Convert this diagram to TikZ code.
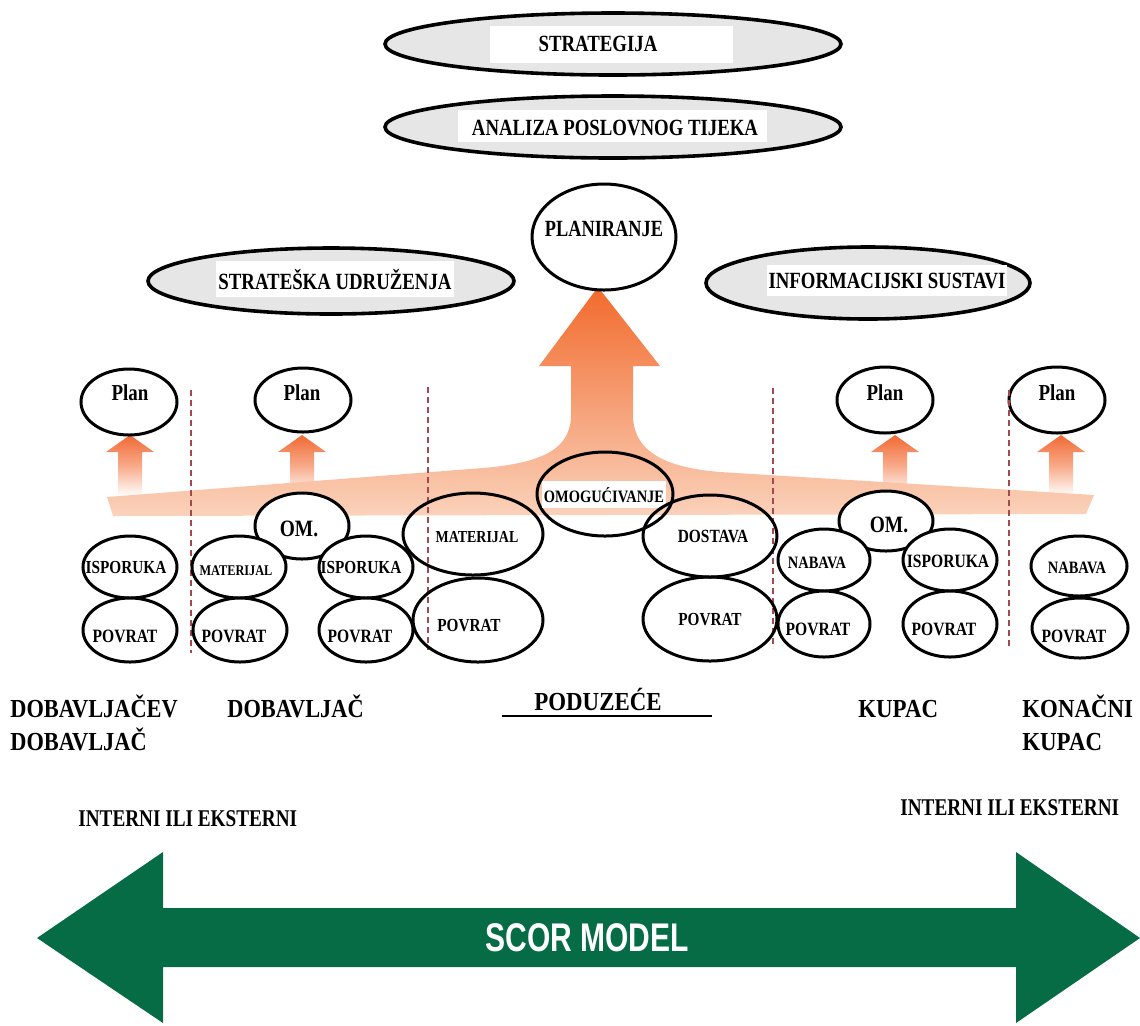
\documentclass[tikz,border=0pt]{standalone}
\usepackage{graphicx}
\usepackage{fontspec}
\setmainfont{Liberation Serif}
\newfontfamily\scorfont{Liberation Sans}
\usetikzlibrary{shapes.geometric}
\newcommand{\cz}[2][0.83]{\scalebox{#1}[1]{#2}}
\newcommand{\fsz}[1]{\fontsize{#1}{#1}\selectfont\bfseries}
\definecolor{ovgray}{HTML}{E6E6E6}
\definecolor{orTop}{HTML}{F26A2C}
\definecolor{orMid}{HTML}{F7A17A}
\definecolor{orBot}{HTML}{FAD2BB}
\definecolor{smTop}{HTML}{F06A35}
\definecolor{smMid}{HTML}{F8A988}
\definecolor{dashred}{HTML}{A4474E}
\definecolor{scorgreen}{HTML}{056C46}
\begin{document}
\begin{tikzpicture}[x=0.5pt,y=-0.5pt,
  ov/.style args={#1/#2}{ellipse, draw=black, line width=1.5pt, inner sep=0pt, minimum width=#1pt, minimum height=#2pt},
  wov/.style args={#1/#2}{ov=#1/#2, fill=white},
  gov/.style args={#1/#2}{ov=#1/#2, fill=ovgray, line width=1.8pt},
  txt/.style={inner sep=0pt, anchor=base, font=\fsz{#1}},
  lbl/.style={inner sep=0pt, anchor=base west, font=\fsz{13}},
  dashline/.style={draw=dashred, line width=0.9pt, dash pattern=on 3pt off 2pt},
  smallarrow/.style={top color=smTop, bottom color=white, middle color=smMid, draw=none}
]
\useasboundingbox (0,0) rectangle (1140,1025);

% ---- top gray ellipses ----
\node[gov=228/31] (strat) at (613,44) {};
\node[fill=white, minimum width=121.5pt, minimum height=18.5pt, inner sep=0pt] (stratbox) at (611,44) {};
\node[txt=11.6] (stratt) at (598,51) {\cz[0.81]{STRATEGIJA}};
\node[gov=228/31] (anal) at (613,127) {};
\node[fill=white, minimum width=154.5pt, minimum height=16pt, inner sep=0pt] (analbox) at (612,126) {};
\node[txt=11.6] (analt) at (615,135) {\cz[0.81]{ANALIZA POSLOVNOG TIJEKA}};

% ---- small arrows ----
\foreach \cx/\nm in {130/a1,302/a2,895/a3,1061/a4}{
  \path[smallarrow] (\cx,435) -- (\cx+24,452) -- (\cx+12,452) -- (\cx+12,496)
     -- (\cx-12,496) -- (\cx-12,452) -- (\cx-24,452) -- cycle;
}

% ---- big arrow with band ----
\path[top color=orTop, middle color=orMid, bottom color=orBot]
  (598,287) -- (660,366) -- (633,366) -- (633,415)
  .. controls (633,455) and (672,468) .. (720,472)
  -- (1094,495) -- (1086,514) -- (113,516) -- (107,497) -- (470,469)
  .. controls (530,465) and (571,455) .. (571,415)
  -- (571,366) -- (539,366) -- cycle;

% ---- planiranje and side ellipses ----
\node[wov=72/53] (plan0) at (604,237) {};
\node[txt=11.6] (plan0t) at (604,236) {\cz[0.79]{PLANIRANJE}};
\node[gov=183/33] (su) at (331,281) {};
\node[txt=11.6, fill=white, inner xsep=1pt, inner ysep=4pt] (sut) at (335,289) {\cz[0.81]{STRATEŠKA UDRUŽENJA}};
\node[gov=162/36] (is) at (868,283) {};
\node[txt=11.6, fill=white, inner xsep=1pt, inner ysep=4pt] (ist) at (887,288) {\cz[0.81]{INFORMACIJSKI SUSTAVI}};

% ---- plan ellipses ----
\node[wov=48/33] (p1) at (129,402) {};
\node[txt=11.4] (p1t) at (130,400) {\cz{Plan}};
\node[wov=48/32] (p2) at (303,400) {};
\node[txt=11.4] (p2t) at (302,400) {\cz{Plan}};
\node[wov=48/33] (p3) at (885,400) {};
\node[txt=11.4] (p3t) at (885,400) {\cz{Plan}};
\node[wov=48/33] (p4) at (1057,400) {};
\node[txt=11.4] (p4t) at (1057,400) {\cz{Plan}};

% ---- dashed separators ----
\coordinate (d1t) at (191,390); \coordinate (d1b) at (191,653);
\coordinate (d2t) at (428,387); \coordinate (d2b) at (428,650);
\coordinate (d3t) at (773,388); \coordinate (d3b) at (773,648);
\coordinate (d4t) at (1009,390); \coordinate (d4b) at (1009,648);
\draw[dashline] (d1t) -- (d1b);
\draw[dashline] (d2t) -- (d2b);
\draw[dashline] (d3t) -- (d3b);
\draw[dashline] (d4t) -- (d4b);

% ---- column 1 ----
\node[wov=47/31] (isp1) at (130,567) {};
\node[txt=9.2] (isp1t) at (126,573) {\cz{ISPORUKA}};
\node[wov=47/32] (pov1) at (130,630) {};
\node[txt=9.4] (pov1t) at (125,642) {\cz{POVRAT}};

% ---- column 2 ----
\node[wov=47/33] (om1) at (302,526) {};
\node[txt=11.7] (om1t) at (299,536) {\cz{OM.}};
\node[wov=47/31] (mat2) at (239,567) {};
\node[txt=7.4] (mat2t) at (236,575) {\cz{MATERIJAL}};
\node[wov=47/32] (pov2) at (240,630) {};
\node[txt=9.4] (pov2t) at (234,642) {\cz{POVRAT}};
\node[wov=47/31] (isp2) at (366,567) {};
\node[txt=9.2] (isp2t) at (361,573) {\cz{ISPORUKA}};
\node[wov=47/32] (pov2b) at (366,630) {};
\node[txt=9.4] (pov2bt) at (360,642) {\cz{POVRAT}};

% ---- column 3 ----
\node[ov=70/41] (mat3) at (473,534) {};
\node[txt=8.4] (mat3t) at (477,542) {\cz{MATERIJAL}};
\node[ov=65/42] (pov3) at (478,620) {};
\node[txt=9.2] (pov3t) at (469,631) {\cz{POVRAT}};
\node[ov=68/42] (omog) at (605,494) {};
\node[txt=8.7, fill=white, inner xsep=1pt, inner ysep=3pt] (omogt) at (604,502) {\cz{OMOGUĆIVANJE}};
\node[ov=67/41] (dost) at (710,536) {};
\node[txt=9.3] (dostt) at (713,542) {\cz{DOSTAVA}};
\node[ov=67/42] (pov4) at (710,619) {};
\node[txt=9.2] (pov4t) at (710,625) {\cz{POVRAT}};

% ---- column 4 ----
\node[wov=47/30] (om2) at (886,521) {};
\node[txt=11.7] (om2t) at (889,532) {\cz{OM.}};
\node[wov=46/31] (nab1) at (824,560) {};
\node[txt=8.7] (nab1t) at (817,568) {\cz{NABAVA}};
\node[wov=47/31] (isp4) at (950,560) {};
\node[txt=9.4] (isp4t) at (948,567) {\cz{ISPORUKA}};
\node[wov=46/33] (pov5) at (824,624) {};
\node[txt=9.4] (pov5t) at (818,635) {\cz{POVRAT}};
\node[wov=47/33] (pov6) at (950,624) {};
\node[txt=9.4] (pov6t) at (944,635) {\cz{POVRAT}};

% ---- column 5 ----
\node[wov=48/30] (nab2) at (1079,566) {};
\node[txt=8.7] (nab2t) at (1077,573) {\cz{NABAVA}};
\node[wov=48/30] (pov7) at (1080,628) {};
\node[txt=9.4] (pov7t) at (1074,642) {\cz{POVRAT}};

% ---- bottom labels ----
\node[lbl] (dd1) at (10,717) {\cz[0.86]{DOBAVLJAČEV}};
\node[lbl] (dd2) at (10,750) {\cz[0.86]{DOBAVLJAČ}};
\node[lbl] (dob) at (227,717) {\cz[0.86]{DOBAVLJAČ}};
\node[txt=13] (pod) at (598,710) {\cz[0.88]{PODUZEĆE}};
\coordinate (ulA) at (502,716); \coordinate (ulB) at (712,716);
\draw[line width=1pt] (ulA) -- (ulB);
\node[lbl] (kup) at (858,717) {\cz[0.88]{KUPAC}};
\node[lbl] (kon1) at (1022,717) {\cz[0.88]{KONAČNI}};
\node[lbl] (kon2) at (1022,750) {\cz[0.88]{KUPAC}};
\node[inner sep=0pt, anchor=base west, font=\fsz{12}] (int1) at (78,826) {\cz[0.8]{INTERNI ILI EKSTERNI}};
\node[inner sep=0pt, anchor=base west, font=\fsz{12}] (int2) at (900,815) {\cz[0.8]{INTERNI ILI EKSTERNI}};

% ---- SCOR double arrow ----
\fill[scorgreen] (37,938) -- (163,852) -- (163,908) -- (1016,908) -- (1016,852)
  -- (1140,938) -- (1016,1023) -- (1016,967) -- (163,967) -- (163,1023) -- cycle;
\node[text=white, inner sep=0pt, font=\scorfont\bfseries\fontsize{20}{20}\selectfont] (scor) at (587,938) {\cz[0.75]{SCOR MODEL}};
\end{tikzpicture}
\end{document}
